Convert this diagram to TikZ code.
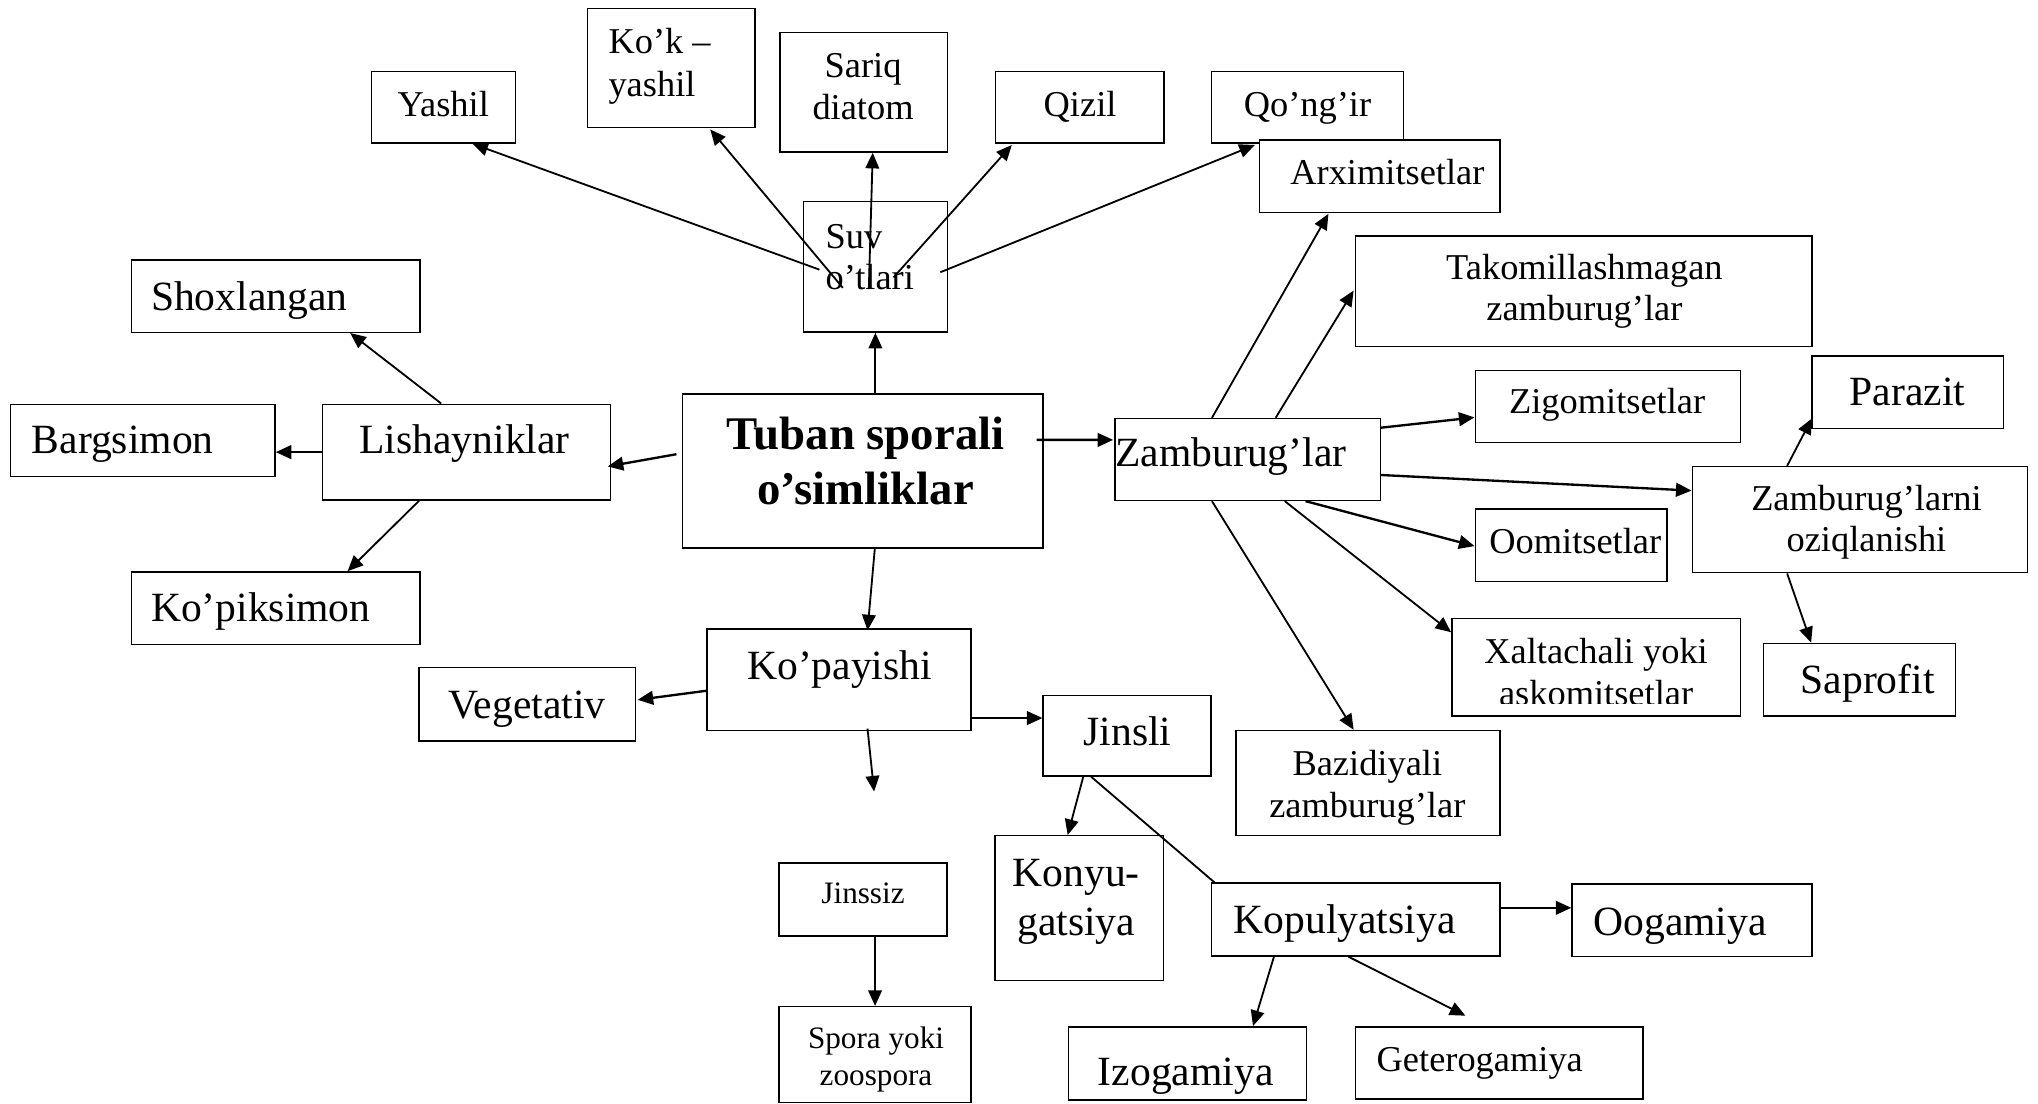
\documentclass[tikz,border=0pt]{standalone}
\usepackage{fontspec}
\setmainfont{Liberation Serif}
\usetikzlibrary{arrows.meta,calc,fit}
\begin{document}
\begin{tikzpicture}[x=1pt,y=-1pt,
  box/.style={draw,line width=1.1pt,fill=white,inner sep=0pt},
  arr/.style={line width=1.4pt,-{Triangle[length=12pt,width=10.5pt]}},
  arrthick/.style={line width=1.8pt,-{Triangle[length=12pt,width=10.5pt]}},
  plainline/.style={line width=1.4pt},
  fL/.style={inner sep=0pt,font=\fontsize{32}{36}\selectfont},
  fM/.style={inner sep=0pt,font=\fontsize{28}{32}\selectfont},
  fS/.style={inner sep=0pt,font=\fontsize{24}{28}\selectfont},
  fB/.style={inner sep=0pt,font=\bfseries\fontsize{36}{41}\selectfont},
]
\useasboundingbox (0,0) rectangle (1568,849);
% ---------- boxes ----------
\node[box,fit={(286,55)(396.5,110)}] (yashil) {};
\node[box,fit={(452,6.5)(581,98)}] (kok) {};
\node[box,fit={(600,25)(729,117)}] (sariq) {};
\node[box,fit={(766,55)(895.5,110)}] (qizil) {};
\node[box,fit={(932,55)(1080,110)}] (qongir) {};
\node[box,fit={(969,107.7)(1154,163.3)}] (arxi) {};
\node[box,fit={(618,155)(729,255.5)}] (suv) {};
\node[box,fit={(101,200)(323,255.7)}] (shox) {};
\node[box,fit={(1043,181.6)(1394,266.7)}] (tako) {};
\node[box,fit={(8,311)(211.6,366.8)}] (barg) {};
\node[box,fit={(248,311)(469.6,384.7)}] (lish) {};
\node[box,fit={(525,303)(802.6,421.7)}] (tuban) {};
\node[box,fit={(858,322)(1062,385)}] (zamb) {};
\node[box,fit={(1135,285)(1339,340.6)}] (zigo) {};
\node[box,fit={(1394,274)(1541.5,329.5)}] (parazit) {};
\node[box,fit={(1302,359)(1560,440.6)}] (ozi) {};
\node[box,fit={(1135,391.7)(1282.6,447.5)}] (oomi) {};
\node[box,fit={(101,440)(323,495.7)}] (kopik) {};
\node[box,fit={(544,484)(747,562)}] (kopay) {};
\node[box,fit={(322.4,513.7)(489,570)}] (veget) {};
\node[box,fit={(1117,476)(1339,551)}] (xalt) {};
\node[box,fit={(1357,495)(1504.6,551)}] (sapro) {};
\node[box,fit={(802.6,535)(931.8,597)}] (jinsli) {};
\node[box,fit={(951,562)(1154,643)}] (bazi) {};
\node[box,fit={(599.5,664)(728.7,720)}] (jinssiz) {};
\node[box,fit={(765.6,643)(895,754.5)}] (konyu) {};
\node[box,fit={(932,679.5)(1154,735.5)}] (kopul) {};
\node[box,fit={(1209.5,680)(1394,736)}] (ooga) {};
\node[box,fit={(599.5,774.5)(747,848.3)}] (spora) {};
\node[box,fit={(822,790)(1005,846.3)}] (izo) {};
\node[box,fit={(1043,790)(1264,845.6)}] (gete) {};
% ---------- texts ----------
\node[fM,anchor=base] (yashilT) at (341,89.8) {Yashil};
\node[fM,anchor=base west] (kokT1) at (468,41.5) {Ko’k –};
\node[fM,anchor=base west] (kokT2) at (468,74) {yashil};
\node[fM,anchor=base] (sariqT1) at (664,60) {Sariq};
\node[fM,anchor=base] (sariqT2) at (664,92.3) {diatom};
\node[fM,anchor=base] (qizilT) at (831,89.8) {Qizil};
\node[fM,anchor=base] (qongirT) at (1006,89.8) {Qo’ng’ir};
\node[fM,anchor=base west] (arxiT) at (992.6,142.3) {Arximitsetlar};
\node[fM,anchor=base west] (suvT1) at (635,191) {Suv};
\node[fM,anchor=base west] (suvT2) at (635,223) {o’tlari};
\node[fL,anchor=base west] (shoxT) at (116,239) {Shoxlangan};
\node[fM,anchor=base] (takoT1) at (1219,215.4) {Takomillashmagan};
\node[fM,anchor=base] (takoT2) at (1219,246.7) {zamburug’lar};
\node[fL,anchor=base west] (bargT) at (24.3,348.8) {Bargsimon};
\node[fL,anchor=base] (lishT) at (357.5,348.8) {Lishayniklar};
\node[fB,anchor=base] (tubanT1) at (666,346) {Tuban sporali};
\node[fB,anchor=base] (tubanT2) at (666,388.4) {o’simliklar};
\node[fL,anchor=base west] (zambT) at (858,359) {Zamburug’lar};
\node[fM,anchor=base] (zigoT) at (1236.5,318) {Zigomitsetlar};
\node[fL,anchor=base] (parazitT) at (1467.5,311.6) {Parazit};
\node[fM,anchor=base] (oziT1) at (1436,392.4) {Zamburug’larni};
\node[fM,anchor=base] (oziT2) at (1436,424.5) {oziqlanishi};
\node[fM,anchor=base] (oomiT) at (1212,425.7) {Oomitsetlar};
\node[fL,anchor=base west] (kopikT) at (116,478.3) {Ko’piksimon};
\node[fL,anchor=base] (kopayT) at (646,523) {Ko’payishi};
\node[fL,anchor=base] (vegetT) at (405.5,552.7) {Vegetativ};
\node[fM,anchor=base] (xaltT1) at (1228,510.4) {Xaltachali yoki};
\begin{scope}
\clip (xalt.north west) rectangle ($(xalt.south east)+(0,-10.5)$);
\node[fM,anchor=base] (xaltT2) at (1228,543) {askomitsetlar};
\end{scope}
\node[fL,anchor=base] (saproT) at (1437,533.5) {Saprofit};
\node[fL,anchor=base] (jinsliT) at (867.5,573.2) {Jinsli};
\node[fM,anchor=base] (baziT1) at (1052,597) {Bazidiyali};
\node[fM,anchor=base] (baziT2) at (1052,628.9) {zamburug’lar};
\node[fS,anchor=base] (jinssizT) at (664,695) {Jinssiz};
\node[fL,anchor=base] (konyuT1) at (828,682.2) {Konyu-};
\node[fL,anchor=base] (konyuT2) at (828,719.4) {gatsiya};
\node[fL,anchor=base west] (kopulT) at (949,718) {Kopulyatsiya};
\node[fL,anchor=base west] (oogaT) at (1225.7,719.4) {Oogamiya};
\node[fS,anchor=base] (sporaT1) at (674,806.6) {Spora yoki};
\node[fS,anchor=base] (sporaT2) at (674,834.8) {zoospora};
\node[fL,anchor=base west] (izoT) at (844.5,834.8) {Izogamiya};
\node[fM,anchor=base west] (geteT) at (1059,824.6) {Geterogamiya};
% ---------- connectors ----------
\coordinate (kfree) at (672.5,609);
\draw[arr] ($(suv.north west)+(13,53)$) -- ($(yashil.south west)+(78,0)$);
\draw[arr] ($(suv.north west)+(31,67)$) -- ($(kok.south west)+(95,1)$);
\draw[arr] ($(suv.north west)+(51,68)$) -- ($(sariq.south west)+(72,0)$);
\draw[arr] ($(suv.north west)+(70,59)$) -- ($(qizil.south west)+(13,1)$);
\draw[arr] ($(suv.north west)+(106,55)$) -- ($(qongir.south west)+(34,1)$);
\draw[arr] (suv.south |- tuban.north) -- (suv.south);
\draw[arr] ($(lish.north west)+(92,0)$) -- ($(shox.south west)+(169,0)$);
\draw[arrthick] (lish.west) -- (lish.west -| barg.east);
\draw[arr] ($(lish.south west)+(75,0)$) -- ($(kopik.north west)+(167,0)$);
\draw[arrthick] ($(tuban.north west)+(-4,47)$) -- ($(lish.east)+(-2.6,11)$);
\draw[arrthick] ($(tuban.north east)+(-5.6,36)$) -- ($(zamb.north west)+(-1,17)$);
\draw[arr] ($(tuban.south west)+(148.6,0)$) -- ($(kopay.north west)+(124,1.5)$);
\draw[arrthick] ($(kopay.north west)+(0,48)$) -- ($(veget.north east)+(1,25.3)$);
\draw[arrthick] ($(kopay.north east)+(0,69)$) -- ($(jinsli.north west)+(0,18)$);
\draw[arr] ($(kopay.south west)+(124,-2)$) -- (kfree);
\draw[arr] (spora.north |- jinssiz.south) -- (spora.north);
\draw[arr] ($(jinsli.south west)+(31.4,0)$) -- ($(konyu.north west)+(56.4,0)$);
\draw[plainline] ($(jinsli.south west)+(37.4,0)$) -- ($(kopul.north west)+(3,0)$);
\draw[arr] ($(kopul.south west)+(48.7,0)$) -- ($(izo.north west)+(142.6,0)$);
\draw[arr] ($(kopul.south west)+(106,0)$) -- ($(gete.north west)+(85,-8)$);
\draw[arrthick] ($(kopul.north east)+(0,19.5)$) -- ($(ooga.north west)+(0,19)$);
\draw[arr] ($(zamb.north west)+(75,0)$) -- ($(arxi.south west)+(53.6,0.7)$);
\draw[arr] ($(zamb.north west)+(124,0)$) -- ($(tako.north west)+(-1,42.5)$);
\draw[arrthick] ($(zamb.north east)+(0,7.6)$) -- ($(zigo.north west)+(0,36.7)$);
\draw[arrthick] ($(zamb.north east)+(0,44)$) -- ($(ozi.north west)+(0,19)$);
\draw[arrthick] ($(zamb.south west)+(147,0)$) -- ($(oomi.north west)+(0,29)$);
\draw[arr] ($(zamb.south west)+(131,0)$) -- ($(xalt.north west)+(0,11)$);
\draw[arr] ($(zamb.south west)+(75,0)$) -- ($(bazi.north west)+(91,0)$);
\draw[arr] ($(ozi.north west)+(73.5,0)$) -- ($(parazit.south west)+(0.5,-8)$);
\draw[arr] ($(ozi.south west)+(73.5,0)$) -- ($(sapro.north west)+(37,0)$);
\end{tikzpicture}
\end{document}
